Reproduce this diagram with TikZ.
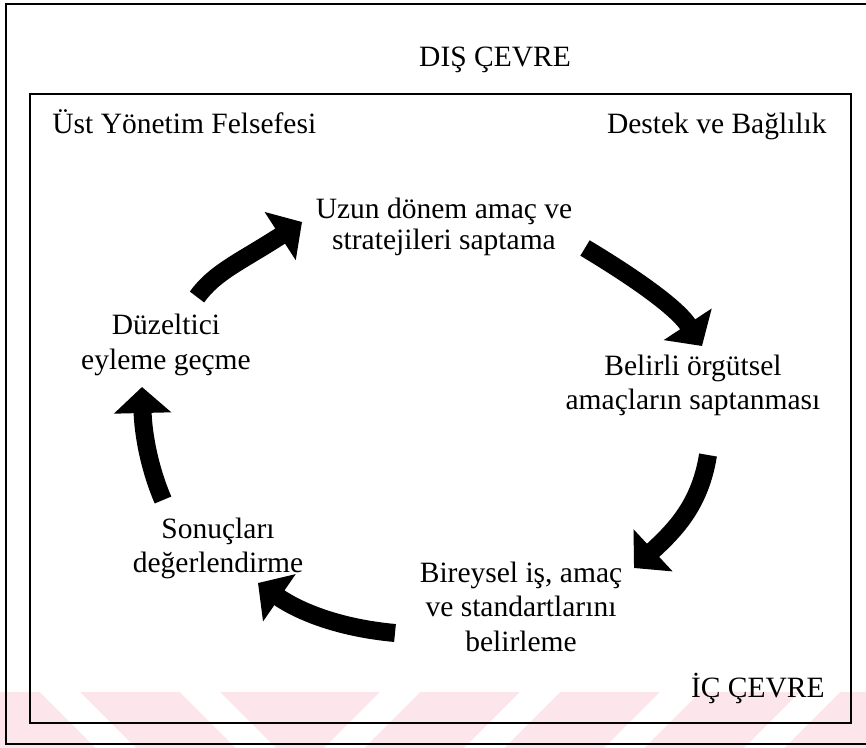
\documentclass[tikz,border=0pt]{standalone}
\usepackage{fontspec}
\setmainfont{Liberation Serif}
\usetikzlibrary{arrows.meta}
\definecolor{wmpink}{RGB}{252,230,235}
\tikzset{
  label/.style={inner sep=0pt, font=\fontsize{14.75}{17.25}\selectfont, align=center},
  frame/.style={draw=black, line width=0.9pt},
  cyclearrow/.style={line width=9pt, -{Triangle[width=28pt,length=13pt]}},
}
\begin{document}
\begin{tikzpicture}[x=0.5pt,y=-0.5pt]
  \useasboundingbox (0,0) rectangle (866,748);
  \fill[white] (0,0) rectangle (866,748);
  \begin{scope}
    \clip (0,0) rectangle (866,748);
    % faint striped band along the bottom edge
    \fill[wmpink] (0,692) rectangle (866,748);
    \foreach \x in {40,180} {
      \fill[white] (\x,692) -- (\x+40,692) -- (\x+96,748) -- (\x+56,748) -- cycle;
    }
    \foreach \x in {380,520,660,800} {
      \fill[white] (\x,692) -- (\x+40,692) -- (\x-16,748) -- (\x-56,748) -- cycle;
    }
    % outer and inner frames
    \draw[frame] (6,4) rectangle (900,744);
    \draw[frame] (30,94) rectangle (851,723);
  \end{scope}

  % environment labels
  \node[label, anchor=base] (dis) at (495,67) {DIŞ ÇEVRE};
  \node[label, anchor=base west] (ust) at (52,134) {Üst Yönetim Felsefesi};
  \node[label, anchor=base east] (destek) at (827,134) {Destek ve Bağlılık};
  \node[label, anchor=base east] (ic) at (825,697) {İÇ ÇEVRE};

  % stages of the cycle (base anchor sits on the last line)
  \node[label, anchor=base] (uzun) at (444,250) {Uzun dönem amaç ve\\[-1.5pt]stratejileri saptama};
  \node[label, anchor=base] (belirli) at (693,409.5) {Belirli örgütsel\\amaçların saptanması};
  \node[label, anchor=base] (bireysel) at (521,651) {Bireysel iş, amaç\\ve standartlarını\\belirleme};
  \node[label, anchor=base] (sonuc) at (218,572.5) {Sonuçları\\değerlendirme};
  \node[label, anchor=base] (duzelt) at (166,369.5) {Düzeltici\\eyleme geçme};

  % arrow end points
  \coordinate (a0) at (197,297); \coordinate (a1) at (302,222);
  \coordinate (b0) at (585,248); \coordinate (b1) at (702,346);
  \coordinate (c0) at (708,455); \coordinate (c1) at (634,568);
  \coordinate (d0) at (395,633); \coordinate (d1) at (258,583);
  \coordinate (e0) at (163,500); \coordinate (e1) at (142,387);

  \draw[cyclearrow] (a0) .. controls (215,272) and (240,262) .. (a1);
  \draw[cyclearrow] (b0) .. controls (625,272) and (675,305) .. (b1);
  \draw[cyclearrow] (c0) .. controls (700,505) and (675,530) .. (c1);
  \draw[cyclearrow] (d0) .. controls (340,628) and (300,612) .. (d1);
  \draw[cyclearrow] (e0) .. controls (148,465) and (143,430) .. (e1);
\end{tikzpicture}
\end{document}
